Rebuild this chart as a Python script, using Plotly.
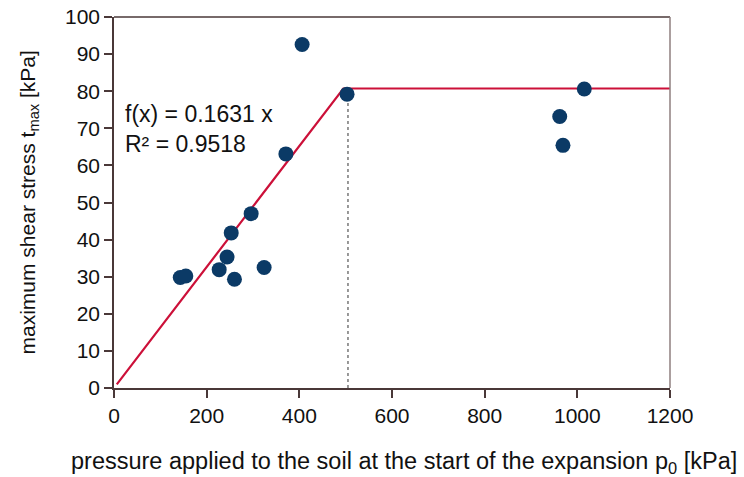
import plotly.graph_objects as go

# measured data points
p0 = [143, 155, 227, 244, 253, 260, 296, 324, 371, 406, 503, 962, 969, 1015]
tmax = [29.8, 30.2, 31.9, 35.3, 41.8, 29.3, 47.0, 32.5, 63.1, 92.6, 79.2, 73.2, 65.4, 80.6]

# fitted bilinear model
slope = 0.1631
fit_x = [6, 495, 1200]
fit_y = [slope * 6, slope * 495, slope * 495]

# dotted marker at limit pressure
limit_x = [505, 505]
limit_y = [0, 80.4]

x_ticks = [0, 200, 400, 600, 800, 1000, 1200]
y_ticks = [0, 10, 20, 30, 40, 50, 60, 70, 80, 90, 100]

x_title = "pressure applied to the soil at the start of the expansion p<sub>0</sub> [kPa]"
y_title = "maximum shear stress t<sub>max</sub> [kPa]"

FONT = "Liberation Sans, Arial, sans-serif"
AX = "#4a3838"

fig = go.Figure()
fig.add_trace(go.Scatter(x=limit_x, y=limit_y, mode="lines",
                         line=dict(color="#555555", width=1.2, dash="dot"),
                         showlegend=False, hoverinfo="skip"))
fig.add_trace(go.Scatter(x=fit_x, y=fit_y, mode="lines",
                         line=dict(color="#cc1039", width=2.2),
                         showlegend=False))
fig.add_trace(go.Scatter(x=p0, y=tmax, mode="markers",
                         marker=dict(color="#0b3a66", size=15, line=dict(width=0)),
                         showlegend=False))

fig.add_annotation(x=0.016, y=0.778, xref="paper", yref="paper",
                   xanchor="left", yanchor="top", align="left", showarrow=False,
                   text="f(x) = 0.1631 x<br>R² = 0.9518",
                   font=dict(family=FONT, size=23, color="#111111"))

# axis titles
fig.add_annotation(x=0.5, y=0, xref="paper", yref="paper", xanchor="center", yanchor="middle",
                   xshift=12, yshift=-74, showarrow=False, text=x_title,
                   font=dict(family=FONT, size=23.5, color="#111111"))
fig.add_annotation(x=0, y=0.5, xref="paper", yref="paper", xanchor="center", yanchor="middle",
                   xshift=-86, textangle=-90, showarrow=False, text=y_title,
                   font=dict(family=FONT, size=21, color="#111111"))

# frame: top and right
fig.add_shape(type="line", xref="paper", yref="paper", x0=0, x1=1, y0=1, y1=1,
              line=dict(color=AX, width=1.5))
fig.add_shape(type="line", xref="paper", yref="paper", x0=1, x1=1, y0=0, y1=1,
              line=dict(color="#8f7f7f", width=1.5))

fig.update_layout(
    width=744, height=477,
    margin=dict(l=114, r=74, t=17, b=89),
    paper_bgcolor="white", plot_bgcolor="white",
    font=dict(family=FONT, size=21, color="#111111"),
    xaxis=dict(range=[0, 1200], tickvals=x_ticks, showgrid=False, zeroline=False,
               showline=True, linecolor=AX, linewidth=1.5, automargin=False,
               ticks="outside", ticklen=8, tickcolor=AX, tickwidth=1.5,
               tickfont=dict(size=21), ticklabeloverflow="allow"),
    yaxis=dict(range=[0, 100], tickvals=y_ticks, showgrid=False, zeroline=False,
               showline=True, linecolor=AX, linewidth=1.5, automargin=False,
               ticks="outside", ticklen=8, tickcolor=AX, tickwidth=1.5,
               tickfont=dict(size=21), ticklabeloverflow="allow"),
)

fig.write_html("out.html", config={"displayModeBar": False},
               post_script="document.body.style.margin='0px';")
